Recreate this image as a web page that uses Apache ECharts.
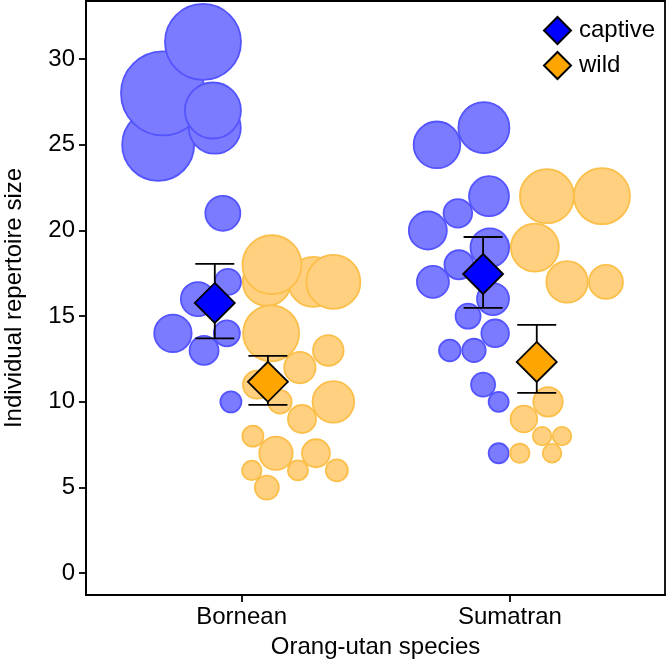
<!DOCTYPE html>
<html>
<head>
<meta charset="utf-8">
<script src="https://cdn.jsdelivr.net/npm/echarts@6/dist/echarts.min.js"></script>
<style>
html,body{margin:0;padding:0;background:#fff;}
#chart{width:667px;height:661px;}
</style>
</head>
<body>
<div id="chart"></div>
<script>
// ---- data ----
const species = ['Bornean', 'Sumatran'];
const yTicks = [0, 5, 10, 15, 20, 25, 30];
const xTicks = [1, 2];

// individual points: jittered x position, repertoire size, bubble weight (third variable)
const bornCaptiveX = [0.689, 0.900, 0.707, 0.893, 0.856, 0.930, 0.949, 0.837, 0.744, 0.945, 0.860, 0.960];
const bornCaptiveY = [25, 26, 28, 27, 31, 21, 17, 16, 14, 14, 13, 10];
const bornCaptiveW = [36, 26, 42, 28, 38, 17.5, 13, 17, 18.7, 13, 14.5, 10.5];

const bornWildX = [1.267, 1.094, 1.342, 1.113, 1.110, 1.323, 1.217, 1.057, 1.143, 1.342, 1.225, 1.042, 1.128, 1.277, 1.038, 1.210, 1.355, 1.094];
const bornWildY = [17, 17, 17, 18, 14, 13, 12, 11, 10, 10, 9, 8, 7, 7, 6, 6, 6, 5];
const bornWildW = [25, 24, 27, 29.5, 28, 15.3, 15.7, 14, 11.7, 20.8, 14, 10.5, 16.7, 14, 9.7, 10, 11, 12];

const sumCaptiveX = [1.728, 1.903, 1.922, 1.806, 1.694, 1.810, 1.925, 1.713, 1.937, 1.844, 1.945, 1.776, 1.866, 1.900, 1.958, 1.958];
const sumCaptiveY = [25, 26, 22, 21, 20, 18, 19, 17, 16, 15, 14, 13, 13, 11, 10, 7];
const sumCaptiveW = [23.3, 25.5, 20, 14.3, 19, 14.5, 19.3, 16, 16, 12.5, 13.8, 10.8, 11.7, 12, 10, 10];

const sumWildX = [2.138, 2.343, 2.093, 2.213, 2.358, 2.142, 2.052, 2.120, 2.194, 2.037, 2.157];
const sumWildY = [22, 22, 19, 17, 17, 10, 9, 8, 8, 7, 7];
const sumWildW = [27, 28, 24, 20.7, 17, 14.7, 13.3, 9.3, 9.3, 9.7, 9.3];

// group means with error bars
const captiveMeanX = [0.90, 1.90];
const captiveMean = [15.77, 17.46];
const captiveLow = [13.70, 15.48];
const captiveHigh = [18.05, 19.62];

const wildMeanX = [1.098, 2.10];
const wildMean = [11.17, 12.33];
const wildLow = [9.82, 10.52];
const wildHigh = [12.68, 14.49];

// ---- build ----
function pts(xs, ys, ws) { return xs.map((x, i) => [x, ys[i], ws[i]]); }
const captivePts = pts(bornCaptiveX, bornCaptiveY, bornCaptiveW).concat(pts(sumCaptiveX, sumCaptiveY, sumCaptiveW));
const wildPts = pts(bornWildX, bornWildY, bornWildW).concat(pts(sumWildX, sumWildY, sumWildW));
const errData = captiveMeanX.map((x, i) => [x, captiveLow[i], captiveHigh[i]])
  .concat(wildMeanX.map((x, i) => [x, wildLow[i], wildHigh[i]]));

const FONT = 'Liberation Sans, Arial, Helvetica, sans-serif';
const FS = 24;
const chart = echarts.init(document.getElementById('chart'), null, { renderer: 'canvas' });

chart.setOption({
  animation: false,
  backgroundColor: '#fff',
  textStyle: { fontFamily: FONT },
  grid: { left: 86, right: 2, top: 1, bottom: 66, show: true, borderColor: '#000', borderWidth: 1.8,
    containLabel: false, outerBoundsMode: 'none' },
  legend: {
    data: ['captive', 'wild'],
    orient: 'vertical',
    left: 543, top: 16, padding: 0,
    itemWidth: 27, itemHeight: 27, itemGap: 6,
    icon: 'diamond',
    textStyle: { fontFamily: FONT, fontSize: FS, color: '#000', padding: [0, 0, 0, 3] }
  },
  xAxis: {
    type: 'value', min: 0.42, max: 2.578,
    axisLine: { show: true, onZero: false, lineStyle: { color: '#000', width: 1.8 } },
    axisTick: { show: true, length: 7, customValues: xTicks, lineStyle: { color: '#000', width: 1.8 } },
    axisLabel: { customValues: xTicks, margin: 10, fontSize: FS, color: '#000', fontFamily: FONT,
      formatter: v => species[Math.round(v) - 1] },
    splitLine: { show: false },
    name: 'Orang-utan species', nameLocation: 'middle', nameGap: 40,
    nameTextStyle: { fontSize: FS, color: '#000', fontFamily: FONT }
  },
  yAxis: {
    type: 'value', min: -1.27, max: 33.39,
    axisLine: { show: true, onZero: false, lineStyle: { color: '#000', width: 1.8 } },
    axisTick: { show: true, length: 7, customValues: yTicks, lineStyle: { color: '#000', width: 1.8 } },
    axisLabel: { customValues: yTicks, margin: 11, fontSize: FS, color: '#000', fontFamily: FONT },
    splitLine: { show: false },
    name: 'Individual repertoire size', nameLocation: 'middle', nameGap: 60,
    nameTextStyle: { fontSize: FS, color: '#000', fontFamily: FONT }
  },
  series: [
    {
      name: 'captive individuals', type: 'scatter', z: 2,
      data: captivePts,
      symbol: 'circle',
      symbolSize: d => d[2] * 2,
      itemStyle: { color: '#7b7bff', borderColor: '#5454ff', borderWidth: 1.8, opacity: 1 }
    },
    {
      name: 'wild individuals', type: 'scatter', z: 2,
      data: wildPts,
      symbol: 'circle',
      symbolSize: d => d[2] * 2,
      itemStyle: { color: '#fed07f', borderColor: '#fbbf4a', borderWidth: 1.8, opacity: 1 }
    },
    {
      name: 'error', type: 'custom', z: 3,
      data: errData,
      renderItem: function (params, api) {
        const lo = api.coord([api.value(0), api.value(1)]);
        const hi = api.coord([api.value(0), api.value(2)]);
        const hw = 19.5;
        const st = { stroke: '#000', lineWidth: 1.8 };
        return {
          type: 'group',
          children: [
            { type: 'line', shape: { x1: lo[0], y1: lo[1], x2: hi[0], y2: hi[1] }, style: st },
            { type: 'line', shape: { x1: lo[0] - hw, y1: lo[1], x2: lo[0] + hw, y2: lo[1] }, style: st },
            { type: 'line', shape: { x1: hi[0] - hw, y1: hi[1], x2: hi[0] + hw, y2: hi[1] }, style: st }
          ]
        };
      }
    },
    {
      name: 'captive', type: 'scatter', z: 4,
      data: captiveMeanX.map((x, i) => [x, captiveMean[i]]),
      symbol: 'diamond', symbolSize: 40,
      itemStyle: { color: '#0000ff', borderColor: '#000', borderWidth: 1.8, opacity: 1 }
    },
    {
      name: 'wild', type: 'scatter', z: 4,
      data: wildMeanX.map((x, i) => [x, wildMean[i]]),
      symbol: 'diamond', symbolSize: 40,
      itemStyle: { color: '#ffa500', borderColor: '#000', borderWidth: 1.8, opacity: 1 }
    }
  ]
});
</script>
</body>
</html>
